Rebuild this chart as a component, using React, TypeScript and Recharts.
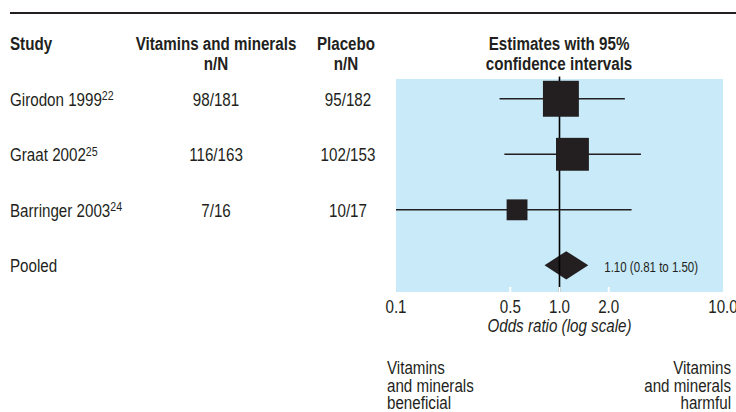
import React from "react";
import {
  ComposedChart,
  Scatter,
  Line,
  Area,
  XAxis,
  YAxis,
  CartesianGrid,
  ReferenceLine,
  ReferenceDot,
} from "recharts";

// table columns
const studies = ["Girodon 1999", "Graat 2002", "Barringer 2003", "Pooled"];
const studyRefs = ["22", "25", "24", ""];
const vitaminCounts = ["98/181", "116/163", "7/16", ""];
const placeboCounts = ["95/182", "102/153", "10/17", ""];

// per-study estimates (odds ratios)
const oddsRatios = [1.02, 1.2, 0.55];
const lowerCI = [0.43, 0.46, 0.1];
const upperCI = [2.51, 3.15, 2.76];
const weights = [46, 38.5, 15.5];

// pooled estimate
const pooledOR = 1.1;
const pooledLower = 0.81;
const pooledUpper = 1.5;

const xTicks = [0.1, 0.5, 1, 2, 10];
const rowTicks = [1, 2, 3, 4];

// no narrow font installed, so squeeze Liberation Sans (Arial metrics) to ~Arial Narrow
const FONT = "'Liberation Sans', Arial, sans-serif";
const SX = 0.82;
const INK = "#231f20";
const BLUE = "#c8eaf9";

const NText = ({
  x,
  y,
  dy = 0,
  anchor = "start",
  size = 18.5,
  bold = false,
  italic = false,
  children,
}: any) => (
  <text
    transform={`translate(${x} ${y}) scale(${SX} 1)`}
    x={0}
    y={dy}
    textAnchor={anchor}
    fontFamily={FONT}
    fontSize={size}
    fontWeight={bold ? 700 : 400}
    fontStyle={italic ? "italic" : "normal"}
    fill={INK}
  >
    {children}
  </text>
);

const squares = oddsRatios.map((or, i) => ({ x: or, y: i + 1, w: weights[i] }));
const ciLines = oddsRatios.map((_, i) => [
  { x: lowerCI[i], y: i + 1 },
  { x: upperCI[i], y: i + 1 },
]);
const pooledRow = studies.length;
const diamond = [
  { x: pooledLower, band: [pooledRow, pooledRow] },
  { x: pooledOR, band: [pooledRow - 0.256, pooledRow + 0.256] },
  { x: pooledUpper, band: [pooledRow, pooledRow] },
];

const Square = (props: any) => {
  const { cx, cy, payload } = props;
  const s = Math.sqrt(payload.w) * 5.3;
  return <rect x={cx - s / 2} y={cy - s / 2} width={s} height={s} fill={INK} />;
};

const XTick = (props: any) => {
  const { x, y, payload } = props;
  const v = payload.value;
  const axisY = y - 8;
  const inner = v !== xTicks[0] && v !== xTicks[xTicks.length - 1];
  return (
    <g>
      {inner && (
        <line x1={x} x2={x} y1={axisY - 5} y2={axisY} stroke="#fff" strokeWidth={2} />
      )}
      <NText x={x} y={y} dy={12.5} anchor="middle">
        {v.toFixed(1)}
      </NText>
    </g>
  );
};

const RowTick = (props: any) => {
  const { y, payload } = props;
  const i = payload.value - 1;
  return (
    <g>
      <NText x={10} y={y} dy={7}>
        {studies[i]}
        {studyRefs[i] && (
          <tspan dy={-5.5} fontSize={13}>
            {studyRefs[i]}
          </tspan>
        )}
      </NText>
      <NText x={216} y={y} dy={7} anchor="middle">
        {vitaminCounts[i]}
      </NText>
      <NText x={348} y={y} dy={7} anchor="middle">
        {placeboCounts[i]}
      </NText>
    </g>
  );
};

const AxisTitle = (props: any) => {
  const { viewBox } = props;
  return (
    <NText x={viewBox.x + viewBox.width / 2} y={viewBox.y + 39.5} anchor="middle" italic>
      Odds ratio (log scale)
    </NText>
  );
};

const PooledLabel = (props: any) => {
  const { viewBox } = props;
  return (
    <NText x={viewBox.x + viewBox.width + 16} y={viewBox.y + viewBox.height / 2} dy={6.5} size={14}>
      {`${pooledOR.toFixed(2)} (${pooledLower.toFixed(2)} to ${pooledUpper.toFixed(2)})`}
    </NText>
  );
};

export default function App() {
  return (
    <div style={{ position: "absolute", left: 0, top: 0, width: 736, height: 412, background: "#fff" }}>
      <ComposedChart width={736} height={412} margin={{ top: 79, right: 13, bottom: 80, left: 0 }}>
        <CartesianGrid fill={BLUE} stroke="none" horizontal={false} vertical={false} />
        <XAxis
          type="number"
          dataKey="x"
          scale="log"
          domain={[0.1, 10]}
          ticks={xTicks}
          allowDataOverflow
          axisLine={false}
          tickLine={false}
          height={40}
          tick={<XTick />}
          label={<AxisTitle />}
        />
        <YAxis
          type="number"
          dataKey="y"
          domain={[0.644, 4.48]}
          reversed
          ticks={rowTicks}
          allowDataOverflow
          width={396}
          axisLine={false}
          tickLine={false}
          tick={<RowTick />}
        />
        <ReferenceLine
          segment={[
            { x: 1, y: 0.6 },
            { x: 1, y: 4.48 },
          ]}
          ifOverflow="visible"
          stroke="#000"
          strokeWidth={1.6}
        />
        {ciLines.map((pts, i) => (
          <Line
            key={studies[i]}
            data={pts}
            dataKey="y"
            stroke={INK}
            strokeWidth={1.6}
            dot={false}
            activeDot={false}
            isAnimationActive={false}
          />
        ))}
        <Scatter data={squares} shape={<Square />} isAnimationActive={false} />
        <Area
          data={diamond}
          dataKey="band"
          type="linear"
          stroke="none"
          fill={INK}
          fillOpacity={1}
          dot={false}
          activeDot={false}
          isAnimationActive={false}
        />
        <ReferenceDot
          x={pooledUpper}
          y={pooledRow}
          r={0}
          fill="none"
          stroke="none"
          label={<PooledLabel />}
        />
      </ComposedChart>
      <svg
        width={736}
        height={412}
        style={{ position: "absolute", left: 0, top: 0, pointerEvents: "none" }}
      >
        <rect x={10} y={12} width={726} height={2} fill={INK} />
        <NText x={10} y={50} bold>Study</NText>
        <NText x={216} y={50} anchor="middle" bold>Vitamins and minerals</NText>
        <NText x={216} y={70} anchor="middle" bold>n/N</NText>
        <NText x={346} y={50} anchor="middle" bold>Placebo</NText>
        <NText x={346} y={70} anchor="middle" bold>n/N</NText>
        <NText x={559} y={50} anchor="middle" bold>Estimates with 95%</NText>
        <NText x={559} y={70} anchor="middle" bold>confidence intervals</NText>
        <NText x={387} y={373.5}>Vitamins</NText>
        <NText x={387} y={391.5}>and minerals</NText>
        <NText x={387} y={409}>beneficial</NText>
        <NText x={731} y={373.5} anchor="end">Vitamins</NText>
        <NText x={731} y={391.5} anchor="end">and minerals</NText>
        <NText x={731} y={409} anchor="end">harmful</NText>
      </svg>
    </div>
  );
}
